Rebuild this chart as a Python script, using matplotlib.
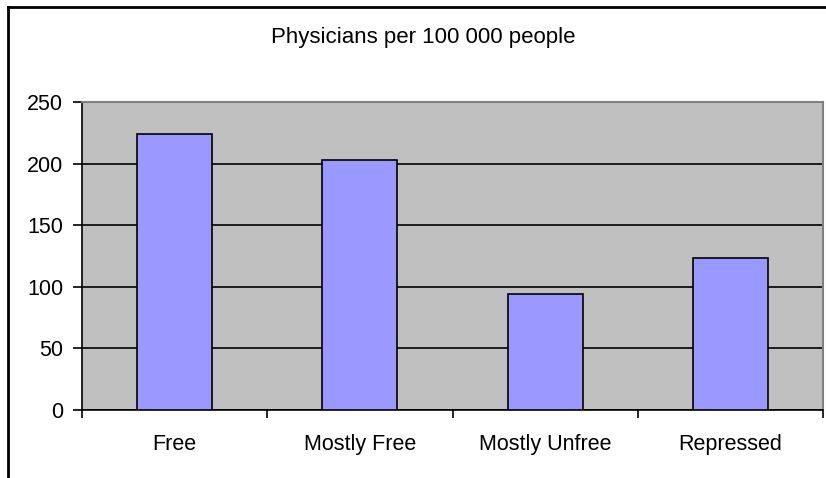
import matplotlib.pyplot as plt
from matplotlib.lines import Line2D

categorias = ["Free", "Mostly Free", "Mostly Unfree", "Repressed"]
medicos = [224, 203, 94, 123]
yticks = [0, 50, 100, 150, 200, 250]

plt.rcParams['font.family'] = ['Liberation Sans', 'DejaVu Sans']

fig = plt.figure(figsize=(8.26, 4.78), dpi=100)
ax = fig.add_axes([82 / 826, 1 - 410 / 478, (823 - 82) / 826, (410 - 102) / 478])

# moldura externa do grafico (estilo Excel)
fig.add_artist(Line2D([8 / 826, 8 / 826], [0, 1 - 7 / 478], transform=fig.transFigure,
                      color="black", lw=2))
fig.add_artist(Line2D([8 / 826, 1], [1 - 7 / 478, 1 - 7 / 478], transform=fig.transFigure,
                      color="black", lw=2))

x = range(len(categorias))
ax.set_facecolor("#C0C0C0")
ax.bar(x, medicos, width=0.405, color="#9999FF", edgecolor="black", linewidth=1.2, zorder=3)

ax.set_xlim(-0.5, len(categorias) - 0.5)
ax.set_ylim(0, 250)
ax.set_yticks(yticks)
ax.set_yticklabels([str(v) for v in yticks], fontsize=15.5)
ax.yaxis.grid(True, color="black", linewidth=1.2, zorder=1)
ax.set_axisbelow(True)

# ticks do eixo x nas fronteiras das categorias
ax.set_xticks([i - 0.5 for i in range(len(categorias) + 1)])
ax.set_xticklabels([])
ax.set_xticks(list(x), minor=True)
ax.set_xticklabels(categorias, minor=True, fontsize=15.5)
ax.tick_params(axis="x", which="minor", length=0, pad=17)
ax.tick_params(axis="x", which="major", length=6, width=1.2, direction="out")
ax.tick_params(axis="y", length=6.5, width=1.2, direction="out", pad=7)

for lado in ["left", "bottom"]:
    ax.spines[lado].set_color("black")
    ax.spines[lado].set_linewidth(1.2)
for lado in ["top", "right"]:
    ax.spines[lado].set_color("#808080")
    ax.spines[lado].set_linewidth(1.5)

fig.text(423 / 826, 1 - 37 / 478, "Physicians per 100 000 people", ha="center", va="center",
         fontsize=16)

fig.savefig("out.png", dpi=100)
